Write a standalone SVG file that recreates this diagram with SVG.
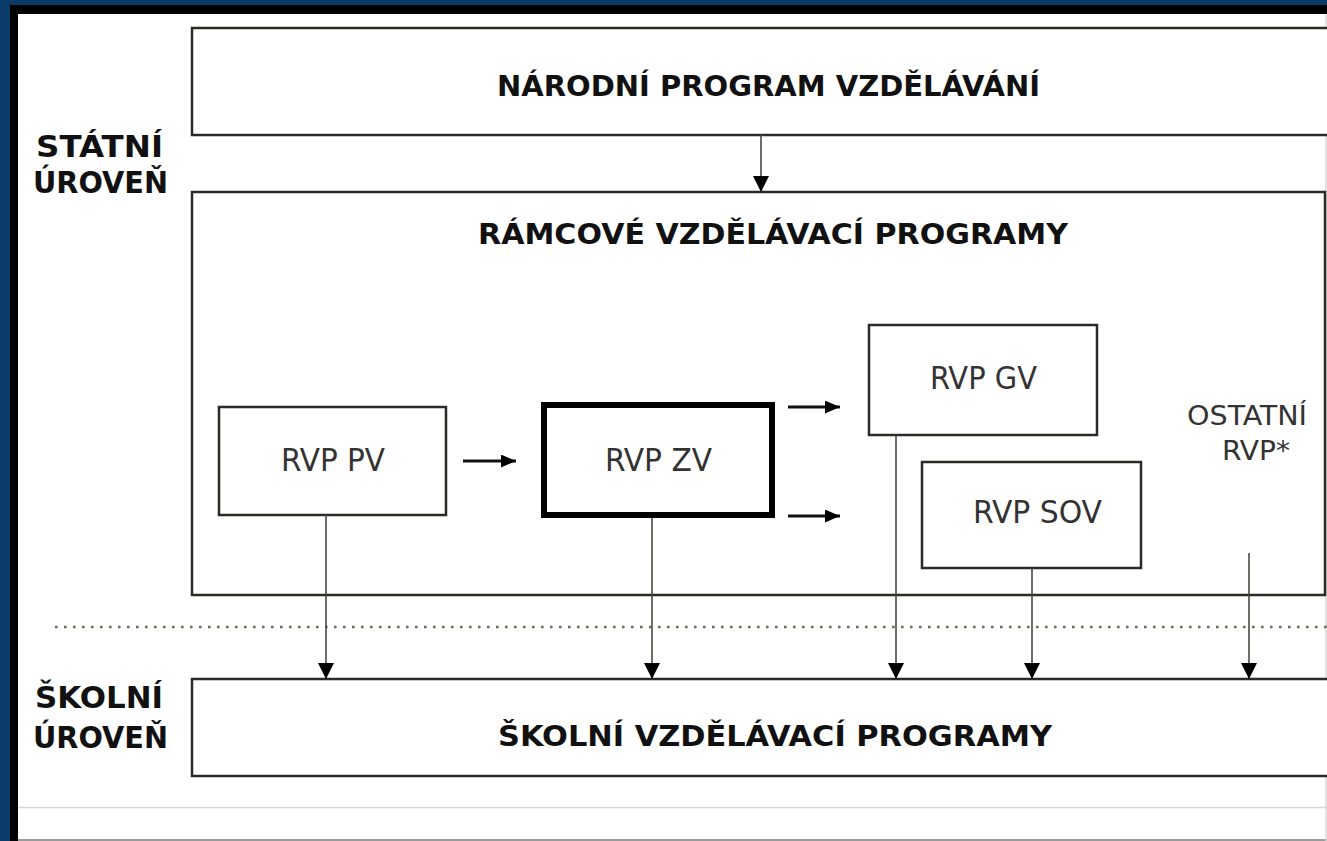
<svg xmlns="http://www.w3.org/2000/svg" width="1327" height="841" viewBox="0 0 1327 841">
<style>
.box{fill:#fff;stroke:#2b2a26;stroke-width:2.5}
.thick{fill:#fff;stroke:#000;stroke-width:6}
.conn{stroke:#4a4840;stroke-width:1.6;fill:none}
.harr{stroke:#111;stroke-width:3;fill:none}
.title{font-family:"DejaVu Sans",Verdana,sans-serif;font-weight:bold;font-size:29px;fill:#111}
.lvl{font-family:"DejaVu Sans",Verdana,sans-serif;font-weight:bold;font-size:31px;fill:#111}
.lbl{font-family:"DejaVu Sans Condensed","DejaVu Sans",sans-serif;font-size:32px;fill:#333}
.sm{font-family:"DejaVu Sans Condensed","DejaVu Sans",sans-serif;font-size:27px;fill:#333}
</style>
<defs>
<marker id="ah" markerWidth="16" markerHeight="16" refX="15" refY="8" orient="auto" markerUnits="userSpaceOnUse">
<path d="M0,0 L16,8 L0,16 Z" fill="#000"/>
</marker>
<marker id="ahs" markerWidth="15" markerHeight="13" refX="15" refY="6.5" orient="auto" markerUnits="userSpaceOnUse">
<path d="M0,0 L15,6.5 L0,13 Z" fill="#000"/>
</marker>
</defs>
<rect x="0" y="0" width="1327" height="841" fill="#fff"/>
<rect x="0" y="0" width="1327" height="5" fill="#0b3b68"/>
<rect x="0" y="0" width="10" height="841" fill="#0b3b68"/>
<rect x="10" y="5" width="1317" height="9" fill="#000"/>
<rect x="10" y="5" width="8" height="836" fill="#000"/>
<line x1="18" y1="807.5" x2="1327" y2="807.5" stroke="#d6d6d6" stroke-width="1.5"/>
<line x1="18" y1="840" x2="1327" y2="840" stroke="#9a9a9a" stroke-width="2"/>
<line x1="1326" y1="14" x2="1326" y2="841" stroke="#d8d8d8" stroke-width="1.5"/>
<line x1="55" y1="627" x2="1327" y2="627" stroke="#6f6a5a" stroke-width="2.6" stroke-dasharray="2.6 6.4"/>

<g id="levels">
<text class="lvl" x="36" y="157" textLength="127" lengthAdjust="spacingAndGlyphs">STÁTNÍ</text>
<text class="lvl" x="33" y="193" textLength="135" lengthAdjust="spacingAndGlyphs">ÚROVEŇ</text>
<text class="lvl" x="35" y="708" textLength="128" lengthAdjust="spacingAndGlyphs">ŠKOLNÍ</text>
<text class="lvl" x="33" y="748" textLength="135" lengthAdjust="spacingAndGlyphs">ÚROVEŇ</text>
</g>

<g id="npv">
<rect class="box" x="192" y="28" width="1150" height="107"/>
<text class="title" x="497" y="96" textLength="543" lengthAdjust="spacingAndGlyphs">NÁRODNÍ PROGRAM VZDĚLÁVÁNÍ</text>
</g>
<g id="rvp">
<rect class="box" x="192" y="192" width="1133" height="403"/>
<text class="title" x="478" y="244" textLength="590" lengthAdjust="spacingAndGlyphs">RÁMCOVÉ VZDĚLÁVACÍ PROGRAMY</text>
</g>
<g id="svp">
<rect class="box" x="192" y="679" width="1150" height="97"/>
<text class="title" x="498" y="746" textLength="554" lengthAdjust="spacingAndGlyphs">ŠKOLNÍ VZDĚLÁVACÍ PROGRAMY</text>
</g>
<g id="rvp-pv">
<rect class="box" x="219" y="407" width="227" height="108"/>
<text class="lbl" x="281" y="471" textLength="104" lengthAdjust="spacingAndGlyphs">RVP PV</text>
</g>
<g id="rvp-zv">
<rect class="thick" x="544" y="405" width="228" height="110"/>
<text class="lbl" x="605" y="471" textLength="107" lengthAdjust="spacingAndGlyphs">RVP ZV</text>
</g>
<g id="rvp-gv">
<rect class="box" x="869" y="325" width="228" height="110"/>
<text class="lbl" x="930" y="389" textLength="107" lengthAdjust="spacingAndGlyphs">RVP GV</text>
</g>
<g id="rvp-sov">
<rect class="box" x="922" y="462" width="219" height="106"/>
<text class="lbl" x="973" y="523" textLength="129" lengthAdjust="spacingAndGlyphs">RVP SOV</text>
</g>
<g id="ostatni">
<text class="sm" x="1187" y="425" textLength="120" lengthAdjust="spacingAndGlyphs">OSTATNÍ</text>
<text class="sm" x="1222" y="460" textLength="68" lengthAdjust="spacingAndGlyphs">RVP*</text>
</g>

<g id="connectors">
<line class="conn" x1="761" y1="135" x2="761" y2="191" marker-end="url(#ah)"/>
<line class="conn" x1="326" y1="515" x2="326" y2="678" marker-end="url(#ah)"/>
<line class="conn" x1="652" y1="518" x2="652" y2="678" marker-end="url(#ah)"/>
<line class="conn" x1="896" y1="435" x2="896" y2="678" marker-end="url(#ah)"/>
<line class="conn" x1="1032" y1="568" x2="1032" y2="678" marker-end="url(#ah)"/>
<line class="conn" x1="1249" y1="553" x2="1249" y2="678" marker-end="url(#ah)"/>
<line class="harr" x1="463" y1="461" x2="516" y2="461" marker-end="url(#ahs)"/>
<line class="harr" x1="788" y1="407" x2="840" y2="407" marker-end="url(#ahs)"/>
<line class="harr" x1="788" y1="516" x2="840" y2="516" marker-end="url(#ahs)"/>
</g>
</svg>
